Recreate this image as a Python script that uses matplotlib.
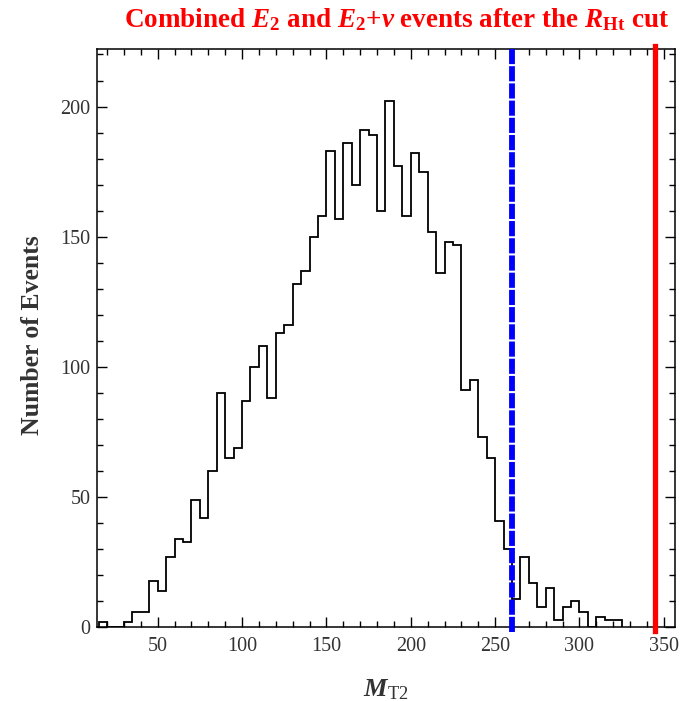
import numpy as np
import matplotlib
matplotlib.use("Agg")
import matplotlib.pyplot as plt
from matplotlib.ticker import MultipleLocator

plt.rcParams["font.family"] = ["Liberation Serif", "DejaVu Serif"]
plt.rcParams["mathtext.fontset"] = "custom"
plt.rcParams["mathtext.rm"] = "Liberation Serif"
plt.rcParams["mathtext.it"] = "Liberation Serif:italic"
plt.rcParams["mathtext.bf"] = "Liberation Serif:bold"
plt.rcParams["mathtext.bfit"] = "Liberation Serif:bold:italic"

# MT2 histogram, 5 GeV bins starting at 15
bin_start = 15
bin_width = 5
counts = [2, 0, 0, 2, 6, 6, 18,
          14, 27, 34, 33, 49, 42, 60, 90, 65, 69,
          87, 100, 108, 88, 113, 116, 132, 137, 150, 158,
          183, 157, 186, 170, 191, 189, 160, 202, 177, 158,
          182, 175, 152, 136, 148, 147, 91, 95, 73, 65,
          41, 30, 11, 27, 17, 8, 15, 3, 8, 10,
          6, 0, 4, 3, 3]

# cut positions
cut_blue = 260
cut_red = 345

edges = bin_start + bin_width * np.arange(len(counts) + 1)

fig = plt.figure(figsize=(6.87, 7.01), dpi=100)
ax = fig.add_axes([0.1416, 0.1049, 0.8409, 0.8248])

ax.stairs(counts, edges, baseline=0, fill=False, color="black", lw=1.3)

ax.axvline(cut_blue, ymin=-0.008, ymax=1.0, color="#0000ff", lw=4.2,
           dashes=(2.6, 0.35), clip_on=False, zorder=5)
ax.axvline(cut_red, ymin=-0.006, ymax=1.006, color="#ff0000", lw=3.8,
           clip_on=False, zorder=5)

ax.set_xlim(14.2, 356.6)
ax.set_ylim(0, 222)

ax.xaxis.set_major_locator(MultipleLocator(50))
ax.xaxis.set_minor_locator(MultipleLocator(10))
ax.yaxis.set_major_locator(MultipleLocator(50))
ax.yaxis.set_minor_locator(MultipleLocator(10))
ax.tick_params(which="both", direction="in", top=True, right=True,
               color="black", width=1.0, labelsize=14.5, labelcolor="#333333")
ax.tick_params(which="major", length=7)
ax.tick_params(which="minor", length=4)
ax.tick_params(axis="x", pad=7)
ax.tick_params(axis="y", pad=5)
for s in ax.spines.values():
    s.set_linewidth(1.1)

ax.set_ylabel("Number of Events", fontsize=18.5, fontweight="bold",
              color="#333333")
ax.yaxis.set_label_coords(-0.093, 0.505)
ax.set_xlabel(r"$\mathbfit{M}_{\mathrm{T2}}$", fontsize=19, color="#333333",
              labelpad=15)

fig.text(0.578, 0.972,
         r"Combined $\mathbfit{E}_{\mathbf{2}}$ and "
         r"$\mathbfit{E}_{\mathbf{2}}\mathbf{+}\mathbfit{\nu}$ events after the "
         r"$\mathbfit{R}_{\mathbf{Ht}}$ cut",
         ha="center", va="center", color="#ff0000", fontsize=19.5,
         fontweight="bold")

fig.savefig("out.png", dpi=100)
